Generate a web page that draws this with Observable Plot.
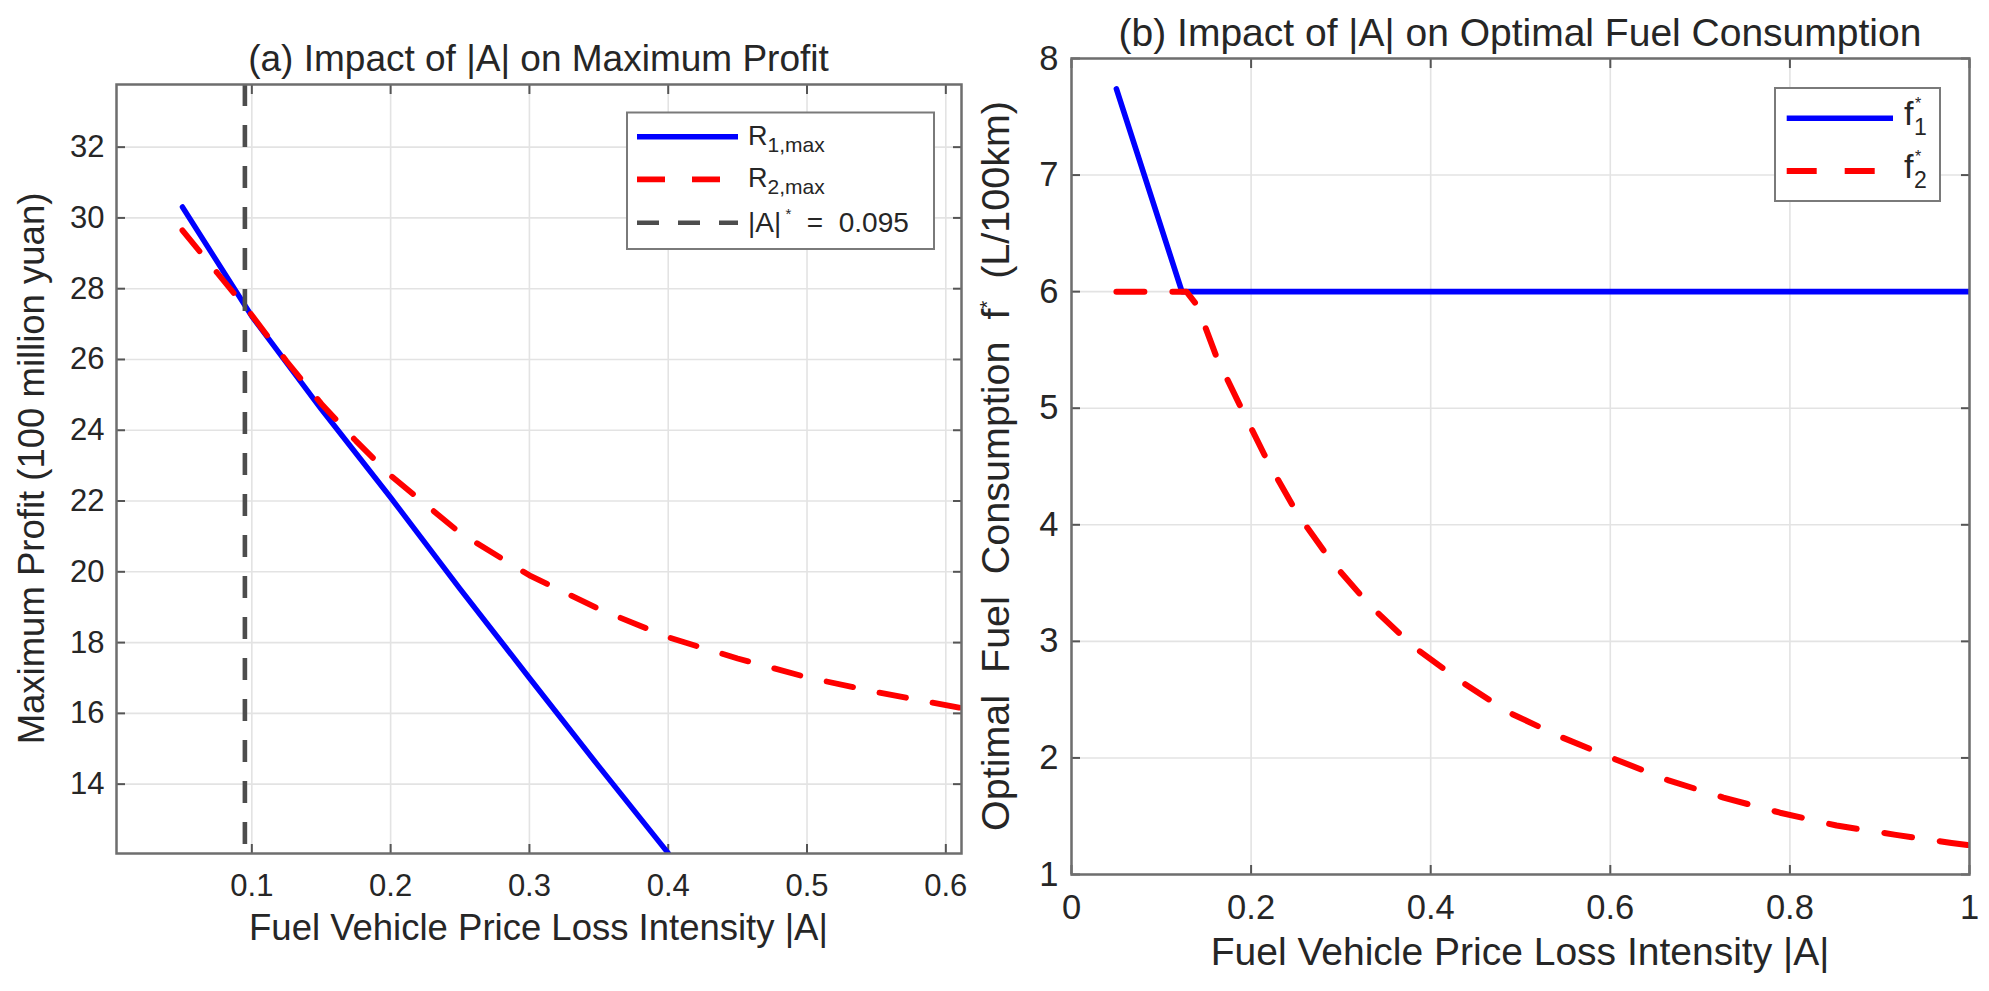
<!DOCTYPE html>
<html><head><meta charset="utf-8">
<script src="https://cdn.jsdelivr.net/npm/d3@7"></script>
<script src="https://cdn.jsdelivr.net/npm/@observablehq/plot@0.6"></script>
<style>
body{margin:0;background:#fff;}
#fig{position:relative;width:1989px;height:991px;background:#fff;overflow:hidden;}
.panel{position:absolute;top:0;}
.panel svg{overflow:visible;}
</style></head><body><div id="fig"><div id="pa" class="panel" style="left:0px"></div><div id="pb" class="panel" style="left:975px"></div></div>
<script>
// ---------- data ----------
// Panel (a): maximum profit vs |A|
const aR1 = [0.05, 0.1, 0.15, 0.2, 0.25, 0.3, 0.35, 0.4];
const R1max = [30.31, 27.22, 24.6, 22.1, 19.52, 17.0, 14.5, 12.05];
const aR2 = [0.05, 0.075, 0.1, 0.125, 0.15, 0.175, 0.2, 0.25, 0.3, 0.35, 0.4, 0.45, 0.5, 0.55, 0.6, 0.6113];
const R2max = [29.65, 28.45, 27.25, 25.95, 24.75, 23.7, 22.72, 21.1, 19.9, 18.95, 18.15, 17.55, 17.02, 16.6, 16.23, 16.15];
const aStar = 0.095;
const xTicksA = [0.1, 0.2, 0.3, 0.4, 0.5, 0.6];
const yTicksA = [14, 16, 18, 20, 22, 24, 26, 28, 30, 32];
const xDomainA = [0.0025, 0.6113];
const yDomainA = [12.04, 33.77];
// Panel (b): optimal fuel consumption vs |A|
const aF1 = [0.05, 0.123, 1.0];
const F1 = [7.74, 6.0, 6.0];
const aF2 = [0.05, 0.128, 0.14, 0.162, 0.191, 0.22, 0.252, 0.29, 0.332, 0.38, 0.433, 0.487, 0.545, 0.605, 0.664, 0.726, 0.789, 0.852, 0.918, 0.98, 1.0];
const F2 = [6.0, 6.0, 5.88, 5.43, 4.97, 4.52, 4.09, 3.68, 3.31, 2.96, 2.66, 2.39, 2.18, 1.99, 1.81, 1.66, 1.53, 1.42, 1.34, 1.27, 1.25];
const xTicksB = [0, 0.2, 0.4, 0.6, 0.8, 1];
const yTicksB = [1, 2, 3, 4, 5, 6, 7, 8];
const xDomainB = [0, 1];
const yDomainB = [1, 8];

// ---------- styling ----------
const FONT = 'Arial, "Liberation Sans", Helvetica, sans-serif';
const TXT = "#262626", FRAME = "#6e6e6e", GRID = "#e3e3e3", TICK = "#555555";
const BLUE = "#0000ff", RED = "#ff0000", GRAY = "#4d4d4d";

function zip(xs, ys, kx, ky) { return xs.map((x, i) => ({[kx]: x, [ky]: ys[i]})); }

function frameMarks(xt, yt, fs, padX, padY) {
  return [
    Plot.gridX(xt, {stroke: GRID, strokeOpacity: 1, strokeWidth: 1.6}),
    Plot.gridY(yt, {stroke: GRID, strokeOpacity: 1, strokeWidth: 1.6}),
    // inward tick marks on all four sides
    Plot.axisX(xt, {anchor: "bottom", tickSize: 9, dy: -9, tickFormat: () => "", label: null, stroke: TICK, strokeWidth: 2}),
    Plot.axisX(xt, {anchor: "top", tickSize: 9, dy: 9, tickFormat: () => "", label: null, stroke: TICK, strokeWidth: 2}),
    Plot.axisY(yt, {anchor: "left", tickSize: 9, dx: 9, tickFormat: () => "", label: null, stroke: TICK, strokeWidth: 2}),
    Plot.axisY(yt, {anchor: "right", tickSize: 9, dx: -9, tickFormat: () => "", label: null, stroke: TICK, strokeWidth: 2}),
    // tick labels
    Plot.axisX(xt, {anchor: "bottom", tickSize: 0, tickPadding: padX, tickFormat: d => String(d), label: null, fontSize: fs, fill: TXT}),
    Plot.axisY(yt, {anchor: "left", tickSize: 0, tickPadding: padY, tickFormat: d => String(d), label: null, fontSize: fs, fill: TXT})
  ];
}

function addText(svg, x, y, parts, opts = {}) {
  const t = svg.append("text")
    .attr("x", x).attr("y", y)
    .attr("font-family", FONT)
    .attr("font-size", opts.size || 30)
    .attr("fill", TXT)
    .attr("text-anchor", opts.anchor || "start")
    .attr("xml:space", "preserve")
    .style("white-space", "pre");
  if (opts.rotate) t.attr("transform", `rotate(${opts.rotate},${x},${y})`);
  for (const p of parts) {
    const s = t.append("tspan").text(p.t);
    if (p.dy) s.attr("dy", p.dy);
    if (p.size) s.attr("font-size", p.size);
  }
  return t;
}

// ---------- panel (a) ----------
const plotA = Plot.plot({
  width: 975, height: 991,
  marginLeft: 116, marginRight: 14, marginTop: 84, marginBottom: 138,
  style: {fontFamily: FONT, background: "transparent", overflow: "visible"},
  x: {domain: xDomainA},
  y: {domain: yDomainA},
  marks: [
    ...frameMarks(xTicksA, yTicksA, 31, 20, 12),
    Plot.line(zip(aR1, R1max, "A", "R"), {x: "A", y: "R", stroke: BLUE, strokeWidth: 5.4, clip: true}),
    Plot.line(zip(aR2, R2max, "A", "R"), {x: "A", y: "R", stroke: RED, strokeWidth: 5.8, strokeDasharray: "27,27", clip: true}),
    Plot.ruleX([aStar], {stroke: GRAY, strokeWidth: 4.6, strokeDasharray: "22,19"}),
    Plot.frame({stroke: FRAME, strokeWidth: 2.5})
  ]
});
document.getElementById("pa").appendChild(plotA);
{
  const svg = d3.select(plotA);
  addText(svg, 538.5, 71, [{t: "(a) Impact of |A| on Maximum Profit"}], {size: 37, anchor: "middle"});
  addText(svg, 538.5, 940, [{t: "Fuel Vehicle Price Loss Intensity |A|"}], {size: 36.5, anchor: "middle"});
  addText(svg, 44, 468.5, [{t: "Maximum Profit (100 million yuan)"}], {size: 36.5, anchor: "middle", rotate: -90});
  // legend
  const g = svg.append("g");
  g.append("rect").attr("x", 627).attr("y", 112.5).attr("width", 307).attr("height", 136.5)
    .attr("fill", "#fff").attr("stroke", "#7a7a7a").attr("stroke-width", 2);
  const rows = [136.7, 179.3, 222.7];
  g.append("line").attr("x1", 637).attr("x2", 738).attr("y1", rows[0]).attr("y2", rows[0]).attr("stroke", BLUE).attr("stroke-width", 5.4);
  g.append("line").attr("x1", 637).attr("x2", 738).attr("y1", rows[1]).attr("y2", rows[1]).attr("stroke", RED).attr("stroke-width", 5.8).attr("stroke-dasharray", "28,27");
  g.append("line").attr("x1", 637).attr("x2", 738).attr("y1", rows[2]).attr("y2", rows[2]).attr("stroke", GRAY).attr("stroke-width", 4.6).attr("stroke-dasharray", "22,19");
  addText(g, 748, rows[0] + 8, [{t: "R"}, {t: "1,max", dy: 7, size: 21}], {size: 27});
  addText(g, 748, rows[1] + 8, [{t: "R"}, {t: "2,max", dy: 7, size: 21}], {size: 27});
  addText(g, 748, rows[2] + 9, [{t: "|A|"}, {t: " *", dy: -13, size: 15}, {t: "  =  0.095", dy: 13}], {size: 28});
}

// ---------- panel (b) ----------
const plotB = Plot.plot({
  width: 1014, height: 991,
  marginLeft: 96, marginRight: 20, marginTop: 58, marginBottom: 117,
  style: {fontFamily: FONT, background: "transparent", overflow: "visible"},
  x: {domain: xDomainB},
  y: {domain: yDomainB},
  marks: [
    ...frameMarks(xTicksB, yTicksB, 34.5, 20, 13),
    Plot.line(zip(aF1, F1, "A", "f"), {x: "A", y: "f", stroke: BLUE, strokeWidth: 5.6, clip: true}),
    Plot.line(zip(aF2, F2, "A", "f"), {x: "A", y: "f", stroke: RED, strokeWidth: 6, strokeDasharray: "28,28", clip: true}),
    Plot.frame({stroke: FRAME, strokeWidth: 2.5})
  ]
});
document.getElementById("pb").appendChild(plotB);
{
  const svg = d3.select(plotB);
  addText(svg, 545, 46, [{t: "(b) Impact of |A| on Optimal Fuel Consumption"}], {size: 39, anchor: "middle"});
  addText(svg, 545, 965, [{t: "Fuel Vehicle Price Loss Intensity |A|"}], {size: 39, anchor: "middle"});
  addText(svg, 34, 466, [{t: "Optimal  Fuel  Consumption  f"}, {t: "*", dy: -15, size: 20}, {t: "  (L/100km)", dy: 15}], {size: 39.5, anchor: "middle", rotate: -90});
  // legend
  const g = svg.append("g");
  g.append("rect").attr("x", 800).attr("y", 88).attr("width", 165).attr("height", 113)
    .attr("fill", "#fff").attr("stroke", "#7a7a7a").attr("stroke-width", 2);
  const rows = [118.3, 171];
  g.append("line").attr("x1", 811.7).attr("x2", 918).attr("y1", rows[0]).attr("y2", rows[0]).attr("stroke", BLUE).attr("stroke-width", 5.6);
  g.append("line").attr("x1", 811.7).attr("x2", 918).attr("y1", rows[1]).attr("y2", rows[1]).attr("stroke", RED).attr("stroke-width", 6).attr("stroke-dasharray", "30,28");
  ["1", "2"].forEach((k, i) => {
    addText(g, 929, rows[i] + 7, [{t: "f"}], {size: 34});
    addText(g, 940, rows[i] - 9, [{t: "*"}], {size: 16});
    addText(g, 939, rows[i] + 17, [{t: k}], {size: 23});
  });
}
</script></body></html>
